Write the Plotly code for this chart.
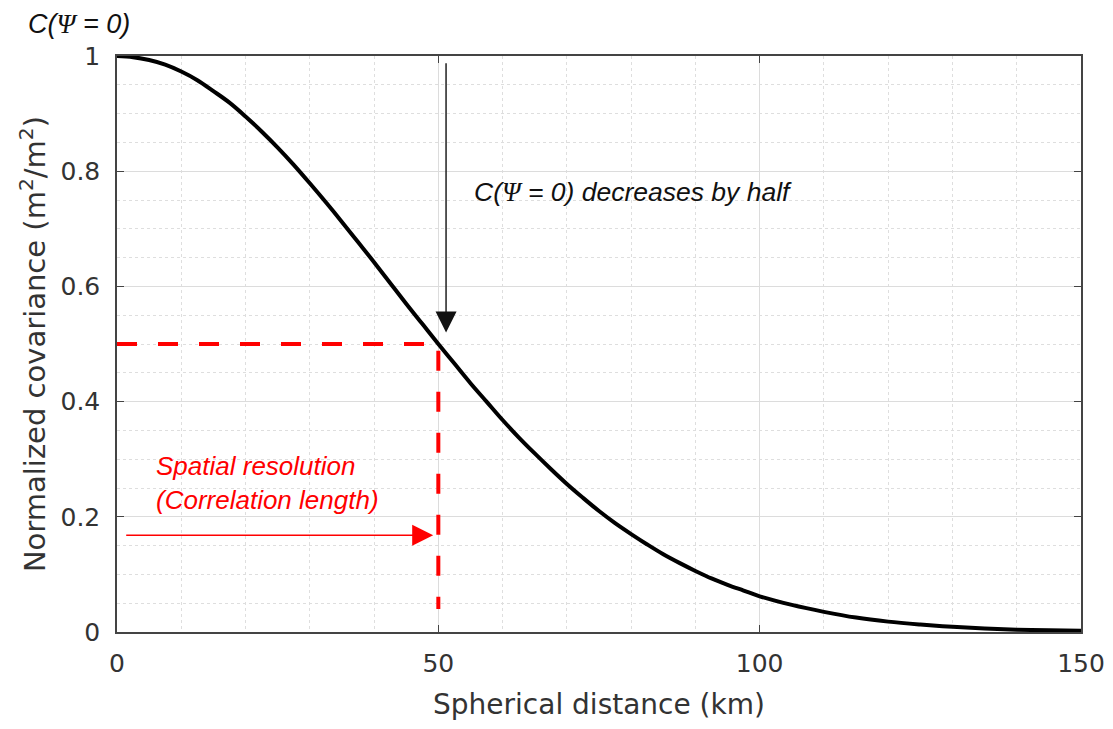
import plotly.graph_objects as go

# Data
distance_km = [0, 2.5, 5, 7.5, 10, 12.5, 15, 17.5, 20, 22.5, 25, 27.5, 30, 32.5, 35, 37.5,
               40, 42.5, 45, 47.5, 50, 52.5, 55, 57.5, 60, 62.5, 65, 67.5, 70, 72.5,
               75, 77.5, 80, 82.5, 85, 87.5, 90, 92.5, 95, 97.5, 100, 105, 110, 115, 120,
               125, 130, 135, 140, 145, 150]
covariance = [1.0, 0.998, 0.993, 0.985, 0.973, 0.958, 0.939, 0.919, 0.895, 0.869,
              0.841, 0.811, 0.779, 0.746, 0.712, 0.677, 0.642, 0.606, 0.570, 0.535,
              0.500, 0.466, 0.432, 0.400, 0.368, 0.338, 0.310, 0.283, 0.257, 0.233,
              0.210, 0.189, 0.170, 0.152, 0.135, 0.120, 0.106, 0.093, 0.082, 0.072,
              0.062, 0.047, 0.035, 0.025, 0.018, 0.013, 0.009, 0.006, 0.004, 0.003, 0.002]

half_distance = 50
half_value = 0.5
red_vline_bottom = 0.04

x_ticks = [0, 50, 100, 150]
x_ticktext = ["0", "50", "100", "150"]
y_ticks = [0, 0.2, 0.4, 0.6, 0.8, 1.0]
y_ticktext = ["0", "0.2", "0.4", "0.6", "0.8", "1"]

fig = go.Figure()

# red dashed guides
fig.add_trace(go.Scatter(
    x=[0, half_distance, half_distance], y=[half_value, half_value, red_vline_bottom],
    mode="lines", line=dict(color="#ff0000", width=4, dash="20px,21px"),
    hoverinfo="skip", showlegend=False))

# main curve
fig.add_trace(go.Scatter(
    x=distance_km, y=covariance, mode="lines",
    line=dict(color="#000000", width=4, shape="spline", smoothing=1.0),
    showlegend=False))

tick_font = dict(family="DejaVu Sans", size=25, color="#333333")
title_font = dict(family="DejaVu Sans", size=28, color="#333333")

fig.update_layout(
    width=1105, height=721,
    margin=dict(l=109, r=32, t=48, b=97, autoexpand=False),
    paper_bgcolor="white", plot_bgcolor="white",
    showlegend=False,
    xaxis=dict(
        range=[0, 150], tickvals=x_ticks, ticktext=x_ticktext,
        showgrid=True, gridcolor="#dcdcdc", gridwidth=1,
        minor=dict(dtick=10, showgrid=True, gridcolor="#dedede", griddash="dot", gridwidth=1),
        showline=True, linecolor="#444444", linewidth=1.5, mirror="ticks",
        ticks="inside", ticklen=7, tickcolor="#444444",
        tickfont=tick_font, ticklabelstandoff=8,
        title=dict(text="Spherical distance (km)", font=title_font, standoff=18),
        zeroline=False, automargin=False,
    ),
    yaxis=dict(
        range=[0, 1], tickvals=y_ticks, ticktext=y_ticktext,
        showgrid=True, gridcolor="#dcdcdc", gridwidth=1,
        minor=dict(dtick=0.05, showgrid=True, gridcolor="#dedede", griddash="dot", gridwidth=1),
        showline=True, linecolor="#444444", linewidth=1.5, mirror="ticks",
        ticks="inside", ticklen=7, tickcolor="#444444",
        tickfont=tick_font, ticklabelstandoff=10,
        title=dict(text="Normalized covariance (m<sup>2</sup>/m<sup>2</sup>)",
                   font=dict(family="DejaVu Sans", size=29, color="#333333"), standoff=6),
        zeroline=False, automargin=False,
    ),
)

psi = '<span style="font-family:Liberation Serif">Ψ</span>'

# top-left label
fig.add_annotation(
    text=f"<i>C({psi} = 0)</i>", xref="paper", yref="paper",
    x=-0.094, y=1.056, xanchor="left", yanchor="middle",
    showarrow=False, font=dict(family="Liberation Sans", size=27, color="#111111"))

# black arrow
fig.add_annotation(
    x=51.2, y=0.52, ax=51.2, ay=0.99, xref="x", yref="y", axref="x", ayref="y",
    showarrow=True, arrowhead=2, arrowsize=3.0, arrowwidth=1.4, arrowcolor="#111111",
    text="")

fig.add_annotation(
    text=f"<i>C({psi} = 0) decreases by half</i>", xref="x", yref="y",
    x=55.3, y=0.764, xanchor="left", yanchor="middle", showarrow=False,
    font=dict(family="Liberation Sans", size=26.5, color="#111111"))

# red arrow
fig.add_annotation(
    x=49.2, y=0.168, ax=1.2, ay=0.168, xref="x", yref="y", axref="x", ayref="y",
    showarrow=True, arrowhead=2, arrowsize=3.0, arrowwidth=1.4, arrowcolor="#ff0000",
    text="")

fig.add_annotation(
    text="<i>Spatial resolution<br>(Correlation length)</i>", xref="x", yref="y",
    x=5.8, y=0.259, xanchor="left", yanchor="middle", align="left",
    showarrow=False, font=dict(family="Liberation Sans", size=26, color="#ff0000"))

fig.write_html("out.html")
